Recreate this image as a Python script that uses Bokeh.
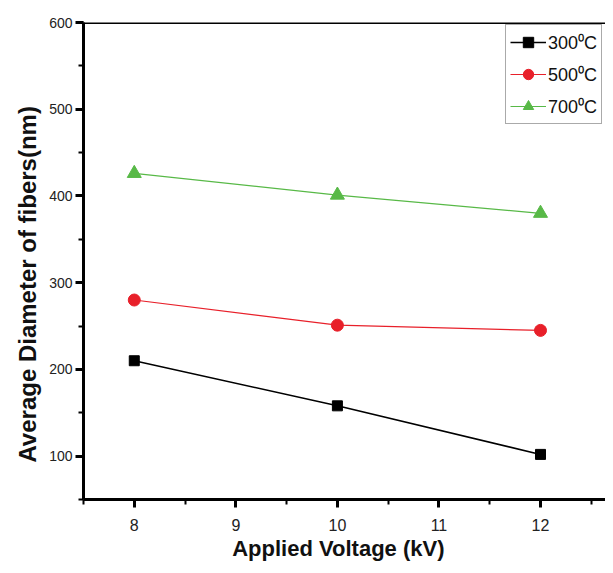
from bokeh.plotting import figure
from bokeh.models import (LinearAxis, SingleIntervalTicker, Range1d,
                          Legend, LegendItem, Span)
from bokeh.embed import file_html
from bokeh.resources import INLINE

voltage = [8, 10, 12]
d300 = [210, 158, 102]
d500 = [280, 251, 245]
d700 = [426, 401, 380]
labels = ["300\u2070C", "500\u2070C", "700\u2070C"]
x_title = "Applied Voltage (kV)" + "\u00a0" * 2
y_title = "Average Diameter of fibers(nm)" + "\u00a0" * 7

FONT = "Liberation Sans"

p = figure(width=605, height=565, output_backend="svg", toolbar_location=None,
           x_range=Range1d(7.5, 12.64), y_range=Range1d(50, 600),
           x_axis_location=None, y_axis_location=None,
           min_border_left=83, min_border_right=0, min_border_top=22,
           min_border_bottom=66)
p.grid.visible = False
p.outline_line_color = None
p.background_fill_color = "white"

axis_style = dict(axis_line_width=3, axis_line_color="black",
                  major_tick_line_width=3, major_tick_line_color="black",
                  minor_tick_line_width=2, minor_tick_line_color="black",
                  major_tick_out=8, major_tick_in=0,
                  minor_tick_out=5, minor_tick_in=0,
                  major_label_text_font=FONT,
                  major_label_text_color="#222222",
                  axis_label_text_font=FONT,
                  axis_label_text_font_style="bold",
                  axis_label_text_color="#111111")

xa = LinearAxis(ticker=SingleIntervalTicker(interval=1, num_minor_ticks=2),
                axis_label=x_title,
                major_label_text_font_size="16px",
                axis_label_text_font_size="22px",
                major_label_standoff=11, axis_label_standoff=2, **axis_style)
ya = LinearAxis(ticker=SingleIntervalTicker(interval=100, num_minor_ticks=2),
                axis_label=y_title,
                major_label_text_font_size="14px",
                axis_label_text_font_size="24px",
                major_label_standoff=3, axis_label_standoff=5, **axis_style)
p.add_layout(xa, "below")
p.add_layout(ya, "left")

top_line = Span(location=600, dimension="width", line_color="black",
                line_width=3)
p.add_layout(top_line)

l1 = p.line(voltage, d300, line_color="black", line_width=1.5)
m1 = p.scatter(voltage, d300, marker="square", size=10, fill_color="black",
               line_color="black")
l2 = p.line(voltage, d500, line_color="#e8202a", line_width=1.2)
m2 = p.scatter(voltage, d500, marker="circle", size=12, fill_color="#e8202a",
               line_color="#e8202a")
l3 = p.line(voltage, d700, line_color="#58b947", line_width=1.2)
m3 = p.scatter(voltage, d700, marker="triangle", size=14, fill_color="#58b947",
               line_color="#58b947")

legend = Legend(items=[LegendItem(label=labels[0], renderers=[l1, m1]),
                       LegendItem(label=labels[1], renderers=[l2, m2]),
                       LegendItem(label=labels[2], renderers=[l3, m3])],
                location=(422, 375))
legend.label_text_font = FONT
legend.label_text_font_size = "18px"
legend.label_text_color = "#111111"
legend.glyph_width = 36
legend.glyph_height = 26
legend.spacing = 6
legend.padding = 4
legend.margin = 0
legend.label_standoff = 2
legend.border_line_color = "#555555"
legend.border_line_width = 1
legend.background_fill_alpha = 1
p.add_layout(legend, "center")

open("out.html", "w").write(file_html(p, INLINE))
